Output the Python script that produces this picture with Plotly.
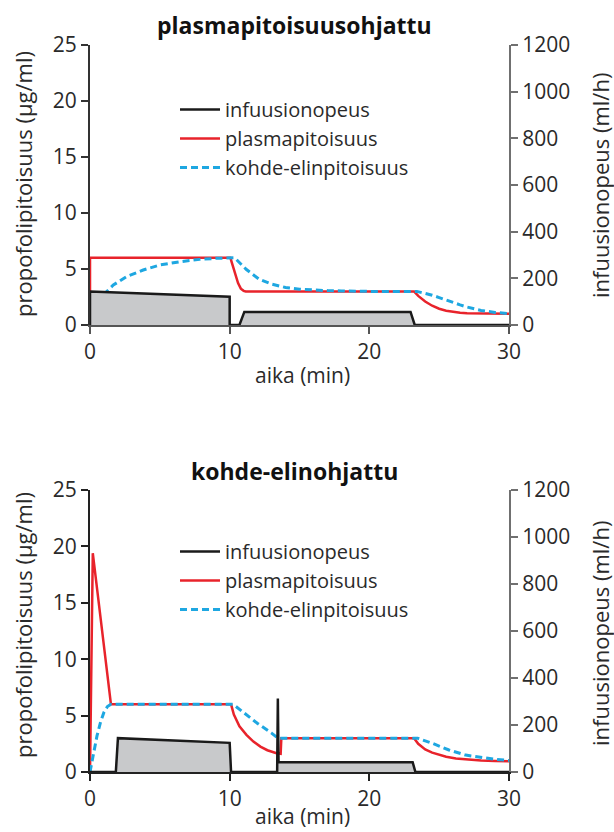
import plotly.graph_objects as go

# ---------------- data ----------------
# Top panel: plasma-concentration controlled ("plasmapitoisuusohjattu")
top_inf_t = [0, 0, 10.0, 10.0, 10.7, 11.05, 22.95, 23.25, 30]
top_inf_rate = [0, 144, 121, 0, 0, 56, 56, 0, 0]  # ml/h

top_plasma_t = [0, 0, 10.05, 10.2, 10.4, 10.6, 10.8, 11.0, 11.15, 23.2, 23.5, 24.0,
                24.5, 25.0, 25.5, 26.0, 26.5, 27.0, 28.0, 29.0, 30.0]
top_plasma = [0, 6.0, 6.0, 5.35, 4.5, 3.75, 3.25, 3.05, 3.0, 3.0, 2.6, 2.1,
              1.72, 1.45, 1.28, 1.17, 1.1, 1.06, 1.03, 1.01, 1.0]

top_effect_t = [0, 0.25, 0.6, 1.07, 1.67, 2.62, 3.81, 5.0, 6.43, 7.86, 9.0, 10.0, 10.36,
                11.2, 12.1, 13.0, 14.0, 15.0, 16.0, 17.0, 18.0, 19.0, 20.0, 23.4,
                24.0, 24.5, 25.0, 25.7, 26.5, 27.0, 28.0, 29.0, 30.0]
top_effect = [0, 0.9, 1.93, 2.83, 3.57, 4.32, 4.91, 5.36, 5.65, 5.86, 5.95, 6.0, 6.0,
              4.95, 4.1, 3.65, 3.35, 3.2, 3.12, 3.07, 3.04, 3.02, 3.0, 3.0,
              2.85, 2.66, 2.45, 2.12, 1.8, 1.6, 1.3, 1.12, 1.02]

# Bottom panel: effect-site controlled ("kohde-elinohjattu")
bot_inf_t = [0, 1.85, 2.0, 10.0, 10.1, 13.4, 13.45, 13.5, 13.6, 23.1, 23.3, 30]
bot_inf_rate = [0, 0, 144, 124, 0, 0, 313, 42, 42, 42, 0, 0]  # ml/h

bot_plasma_t = [0, 0.2, 1.5, 10.1, 10.3, 10.7, 11.2, 11.7, 12.2, 12.7, 13.3, 13.65, 13.7,
                23.2, 23.5, 24.0, 24.5, 25.0, 25.5, 26.2, 27.0, 28.0, 29.0, 30.0]
bot_plasma = [0, 19.4, 6.0, 6.0, 5.1, 4.05, 3.3, 2.7, 2.25, 1.93, 1.68, 1.62, 3.0,
              3.0, 2.5, 2.0, 1.72, 1.5, 1.35, 1.2, 1.1, 1.02, 0.98, 0.96]

bot_effect_t = [0, 0.25, 0.5, 0.75, 1.0, 1.25, 1.5, 10.25, 11.0, 12.0, 13.0, 13.45,
                23.45, 24.0, 24.5, 25.0, 25.7, 26.9, 28.1, 29.0, 30.0]
bot_effect = [0, 1.6, 3.2, 4.4, 5.3, 5.8, 6.0, 6.0, 5.3, 4.3, 3.45, 3.0,
              3.0, 2.8, 2.55, 2.3, 1.95, 1.5, 1.26, 1.12, 1.02]

titles = ["plasmapitoisuusohjattu", "kohde-elinohjattu"]
series_names = ["infuusionopeus", "plasmapitoisuus", "kohde-elinpitoisuus"]
x_title = "aika (min)"
y_left_title = "propofolipitoisuus (µg/ml)"
y_right_title = "infuusionopeus (ml/h)"
x_ticks = [0, 10, 20, 30]
y_left_ticks = [0, 5, 10, 15, 20, 25]
y_right_ticks = [0, 200, 400, 600, 800, 1000, 1200]

# ---------------- styling ----------------
W, H = 614, 832
FONT = "Open Sans"
RED = "#e8232b"
BLUE = "#1ea7e1"
BLACK = "#1a1a1a"
FILL = "#c8c9cb"
TXT = "#2a2a2a"


def px(x):
    """page-pixel x -> paper coordinate"""
    return x / W


def py(y):
    """page-pixel y -> paper coordinate"""
    return 1 - y / H


fig = go.Figure()

panels = [
    dict(inf=(top_inf_t, top_inf_rate), pl=(top_plasma_t, top_plasma), ef=(top_effect_t, top_effect),
         xa="x", ya="y", ya2="y2", legend="legend"),
    dict(inf=(bot_inf_t, bot_inf_rate), pl=(bot_plasma_t, bot_plasma), ef=(bot_effect_t, bot_effect),
         xa="x2", ya="y3", ya2="y4", legend="legend2"),
]

for p in panels:
    t, r = p["inf"]
    fig.add_trace(go.Scatter(x=t, y=r, xaxis=p["xa"], yaxis=p["ya2"], mode="lines",
                             fill="tozeroy", fillcolor=FILL, line=dict(width=0),
                             showlegend=False, hoverinfo="skip"))
    fig.add_trace(go.Scatter(x=t, y=r, xaxis=p["xa"], yaxis=p["ya2"], mode="lines",
                             line=dict(color=BLACK, width=2.5), name=series_names[0],
                             legend=p["legend"]))
    t, v = p["pl"]
    fig.add_trace(go.Scatter(x=t, y=v, xaxis=p["xa"], yaxis=p["ya"], mode="lines",
                             line=dict(color=RED, width=2.5), name=series_names[1],
                             legend=p["legend"]))
    t, v = p["ef"]
    fig.add_trace(go.Scatter(x=t, y=v, xaxis=p["xa"], yaxis=p["ya"], mode="lines",
                             line=dict(color=BLUE, width=3, dash="7px,4px"), name=series_names[2],
                             legend=p["legend"]))

# panel geometry in page pixels
X0, X1 = 90, 509
top_y = (45, 325)
bot_y = (490, 772)

tickfont = dict(family=FONT, size=21, color=TXT)
common_x = dict(range=[0, 30], tickvals=x_ticks, ticks="outside", ticklen=7, tickwidth=2,
                showline=True, linewidth=2, showgrid=False, zeroline=False,
                tickfont=tickfont, automargin=False, fixedrange=True)
common_yl = dict(range=[0, 25], tickvals=y_left_ticks, ticks="outside", ticklen=7, tickwidth=2,
                 showline=True, linewidth=2, showgrid=False, zeroline=False,
                 tickfont=tickfont, automargin=False)
common_yr = dict(range=[0, 1200], tickvals=y_right_ticks, ticks="outside", ticklen=7, tickwidth=2,
                 showline=True, linewidth=2, showgrid=False, zeroline=False, side="right",
                 tickfont=tickfont, automargin=False)

legend_style = dict(xanchor="left", yanchor="top", bgcolor="rgba(0,0,0,0)",
                    font=dict(family=FONT, size=20, color=TXT), itemwidth=40, tracegroupgap=0)

fig.update_layout(
    width=W, height=H,
    margin=dict(l=0, r=0, t=0, b=0),
    paper_bgcolor="white", plot_bgcolor="white",
    font=dict(family=FONT, color=TXT),
    xaxis=dict(domain=[px(X0), px(X1)], anchor="y", linecolor="#555555", tickcolor="#555555", **common_x),
    yaxis=dict(domain=[py(top_y[1]), py(top_y[0])], anchor="x", linecolor="#333333", tickcolor="#333333", **common_yl),
    yaxis2=dict(overlaying="y", anchor="x", linecolor="#707070", tickcolor="#707070", **common_yr),
    xaxis2=dict(domain=[px(X0), px(X1)], anchor="y3", linecolor="#222222", tickcolor="#222222", **common_x),
    yaxis3=dict(domain=[py(bot_y[1]), py(bot_y[0])], anchor="x2", linecolor="#222222", tickcolor="#222222", **common_yl),
    yaxis4=dict(overlaying="y3", anchor="x2", linecolor="#707070", tickcolor="#707070", **common_yr),
    legend=dict(x=px(175), y=py(90), **legend_style),
    legend2=dict(x=px(175), y=py(532), **legend_style),
    showlegend=True,
)

ann = []
for title, ty in zip(titles, [25, 471]):
    ann.append(dict(text=f"<b>{title}</b>", x=px(294), y=py(ty), xref="paper", yref="paper",
                    showarrow=False, xanchor="center", yanchor="middle",
                    font=dict(family=FONT, size=23, color="#111111")))
for xt_y, yl_c, yr_c in [(375, 184, 186), (816, 625, 634)]:
    ann.append(dict(text=x_title, x=px(302), y=py(xt_y), xref="paper", yref="paper",
                    showarrow=False, xanchor="center", yanchor="middle",
                    font=dict(family=FONT, size=21, color=TXT)))
    ann.append(dict(text=y_left_title, x=px(23), y=py(yl_c), xref="paper", yref="paper",
                    showarrow=False, xanchor="center", yanchor="middle", textangle=-90,
                    font=dict(family=FONT, size=22, color=TXT)))
    ann.append(dict(text=y_right_title, x=px(600), y=py(yr_c), xref="paper", yref="paper",
                    showarrow=False, xanchor="center", yanchor="middle", textangle=-90,
                    font=dict(family=FONT, size=22, color=TXT)))
fig.update_layout(annotations=ann)

# remove the default 8px page margin so the figure fills the 614x832 window exactly
fig.write_html("out.html", config={"displayModeBar": False},
               post_script="document.body.style.margin='0';document.body.style.overflow='hidden';")
